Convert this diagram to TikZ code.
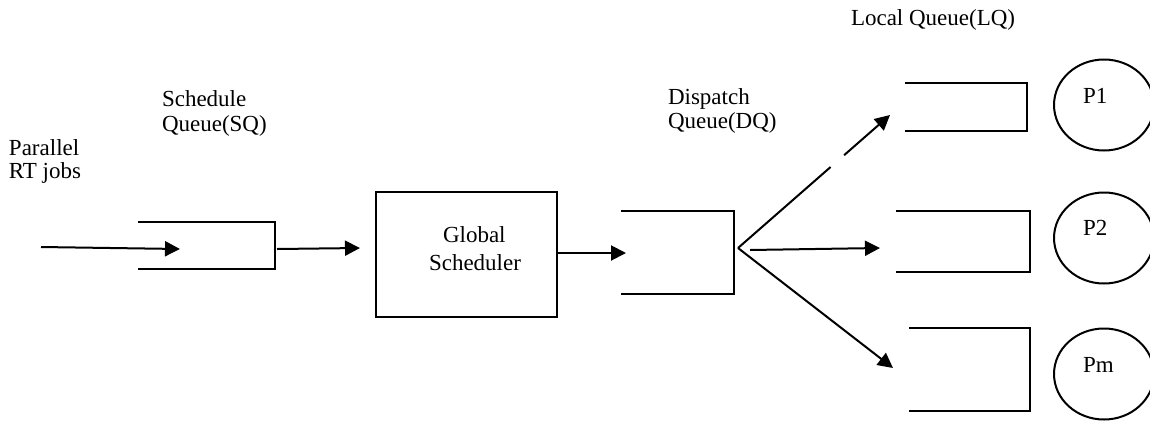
\documentclass[tikz,border=0pt]{standalone}
\usepackage{fontspec}
\setmainfont{Liberation Serif}
\usetikzlibrary{arrows.meta,shapes.geometric}
\begin{document}
\begin{tikzpicture}[x=1pt,y=-1pt,
  line width=2pt,
  txt/.style={anchor=base west,inner sep=0pt,font=\fontsize{23}{25}\selectfont},
  flow/.style={-{Triangle[length=15pt,width=15pt]}},
  qbox/.style={inner sep=0pt,outer sep=0pt},
  proc/.style={draw,ellipse,minimum width=100pt,minimum height=91pt,inner sep=0pt}]
\useasboundingbox (0,0) rectangle (1150,421);
\clip (0,0) rectangle (1150,421);

% labels
\node[txt] (lpar) at (8,155) {Parallel};
\node[txt] (lrt) at (8,178) {RT jobs};
\node[txt] (lsch) at (161,106) {Schedule};
\node[txt] (lsq) at (161,131) {Queue(SQ)};
\node[txt] (ldis) at (667,104) {Dispatch};
\node[txt] (ldq) at (667,128) {Queue(DQ)};
\node[txt] (llq) at (850,25) {Local Queue(LQ)};

% schedule queue (open on the left)
\coordinate (sqtl) at (138,222);
\coordinate (sqtr) at (275,222);
\coordinate (sqbr) at (275,269);
\coordinate (sqbl) at (138,269);
\draw (sqtl) -- (sqtr) -- (sqbr) -- (sqbl);

% global scheduler
\node[draw,qbox,minimum width=181pt,minimum height=125pt,anchor=north west] (gs) at (376,192) {};
\node[txt] (lglob) at (442,242) {Global};
\node[txt] (lsched) at (428,270) {Scheduler};

% dispatch queue
\coordinate (dqtl) at (621,211);
\coordinate (dqtr) at (734,211);
\coordinate (dqbr) at (734,294);
\coordinate (dqbl) at (621,294);
\draw (dqtl) -- (dqtr) -- (dqbr) -- (dqbl);

% local queues
\draw (905,83) coordinate (lq1tl) -- (1027,83) -- (1027,131) -- (905,131) coordinate (lq1bl);
\draw (896,211) coordinate (lq2tl) -- (1030,211) -- (1030,272) -- (896,272) coordinate (lq2bl);
\draw (909,328) coordinate (lqmtl) -- (1030,328) -- (1030,411) -- (909,411) coordinate (lqmbl);

% processors
\node[proc] (p1) at (1104,105) {};
\node[proc] (p2) at (1104,238) {};
\node[proc] (pm) at (1104,374) {};
\node[txt] at (1082,103) {P1};
\node[txt] at (1082,235) {P2};
\node[txt] at (1082,372) {Pm};

% flow arrows
\coordinate (jin) at (41,247);
\coordinate (jsq) at (180,249);
\draw[flow] (jin) -- (jsq);
\coordinate (sqout) at (277,249);
\coordinate (gsin) at (360,248);
\draw[flow] (sqout) -- (gsin);
\coordinate (gsout) at (557,253);
\coordinate (dqin) at (626,253);
\draw[flow] (gsout) -- (dqin);

% fan-out from the dispatch queue
\coordinate (fan) at (738,248);
\coordinate (to1) at (890,115);
\coordinate (mid0) at (750,250);
\coordinate (to2) at (880,248);
\coordinate (tom) at (893,368);
\draw[flow,dash pattern=on 123pt off 18pt on 200pt] (fan) -- (to1);
\draw[flow] (mid0) -- (to2);
\draw[flow] (fan) -- (tom);
\end{tikzpicture}
\end{document}
